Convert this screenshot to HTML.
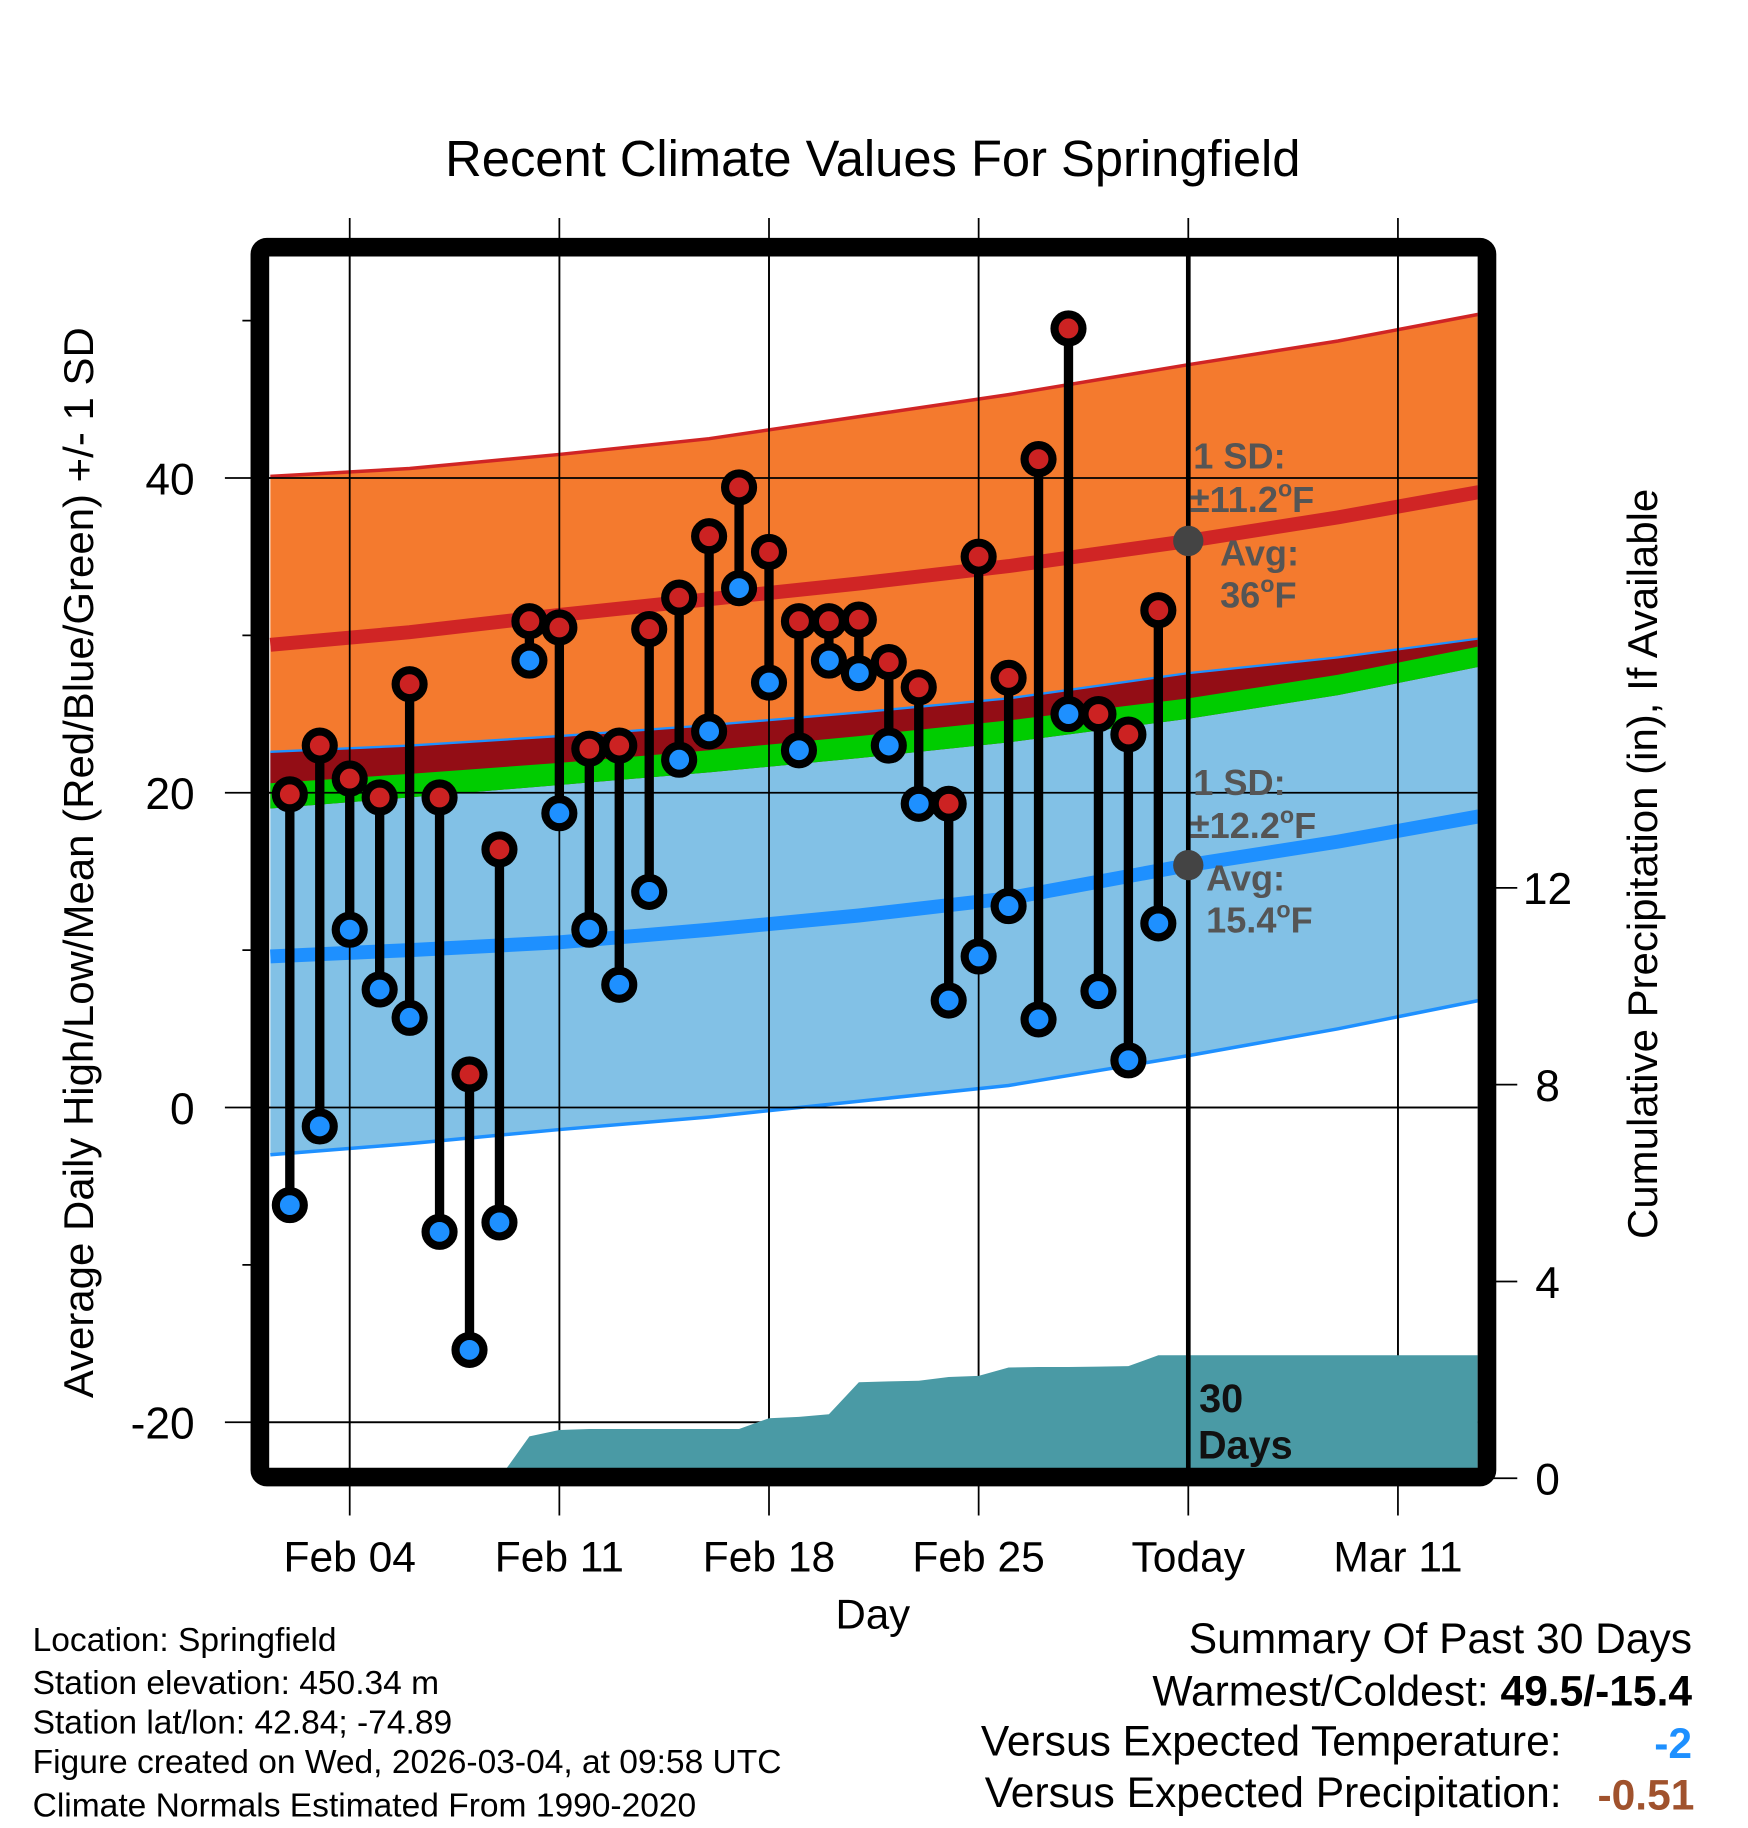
<!DOCTYPE html>
<html><head><meta charset="utf-8"><style>
html,body{margin:0;padding:0;background:#fff;}
svg{display:block;font-family:"Liberation Sans",Arial,sans-serif;}
</style></head><body>
<svg id="chart" width="1748" height="1828" viewBox="0 0 1500 1568" preserveAspectRatio="none" xmlns="http://www.w3.org/2000/svg">
<defs><clipPath id="plotclip"><rect x="231" y="220" width="1037" height="1040"/></clipPath></defs>
<text x="749" y="151" font-size="43.5" text-anchor="middle">Recent Climate Values For Springfield</text>
<g id="grid"></g>
<g id="fills" clip-path="url(#plotclip)"></g>
<g id="marks"></g>
<rect x="223" y="212" width="1053" height="1055" rx="6" fill="none" stroke="#000" stroke-width="16"/>
<g id="axes"></g>
<g fill="#555" font-weight="bold" font-size="31">
<text x="1024" y="402">1 SD:</text>
<text x="1021" y="439">±11.2<tspan font-size="20" dy="-13">o</tspan><tspan dy="13">F</tspan></text>
<text x="1047" y="485">Avg:</text>
<text x="1047" y="521">36<tspan font-size="20" dy="-13">o</tspan><tspan dy="13">F</tspan></text>
<text x="1024" y="682">1 SD:</text>
<text x="1021" y="719">±12.2<tspan font-size="20" dy="-13">o</tspan><tspan dy="13">F</tspan></text>
<text x="1035" y="764">Avg:</text>
<text x="1035" y="800">15.4<tspan font-size="20" dy="-13">o</tspan><tspan dy="13">F</tspan></text>
<text x="1029" y="1211" fill="#111" font-size="34">30</text>
<text x="1028" y="1251" fill="#111" font-size="34">Days</text>
</g>
<text transform="translate(80,740) rotate(-90)" font-size="36" text-anchor="middle">Average Daily High/Low/Mean (Red/Blue/Green) +/- 1 SD</text>
<text transform="translate(1422,741) rotate(-90)" font-size="36" text-anchor="middle">Cumulative Precipitation (in), If Available</text>
<text x="749" y="1397" font-size="36" text-anchor="middle">Day</text>
<g font-size="28.8">
<text x="28" y="1416">Location: Springfield</text>
<text x="28" y="1453">Station elevation: 450.34 m</text>
<text x="28" y="1487">Station lat/lon: 42.84; -74.89</text>
<text x="28" y="1521">Figure created on Wed, 2026-03-04, at 09:58 UTC</text>
<text x="28" y="1558">Climate Normals Estimated From 1990-2020</text>
</g>
<g font-size="36.5">
<text x="1452" y="1418" text-anchor="end">Summary Of Past 30 Days</text>
<text x="1452" y="1463" text-anchor="end">Warmest/Coldest: <tspan font-weight="bold">49.5/-15.4</tspan></text>
<text x="1340" y="1506" text-anchor="end">Versus Expected Temperature:</text>
<text x="1452" y="1508" text-anchor="end" fill="#1e90ff" font-weight="bold">-2</text>
<text x="1340" y="1550" text-anchor="end">Versus Expected Precipitation:</text>
<text x="1454" y="1552" text-anchor="end" fill="#a0522d" font-weight="bold">-0.51</text>
</g>
</svg>
<script>
const obsDays=[1,2,3,4,5,6,7,8,9,10,11,12,13,14,15,16,17,18,19,20,21,22,23,24,25,26,27,28,29,30];
const highs=[19.9,23.0,20.9,19.7,26.9,19.7,2.1,16.4,30.9,30.5,22.8,23.0,30.4,32.4,36.3,39.4,35.3,30.9,30.9,31.0,28.3,26.7,19.3,35.0,27.3,41.2,49.5,25.0,23.7,31.6];
const lows=[-6.2,-1.2,11.3,7.5,5.7,-7.9,-15.4,-7.3,28.4,18.7,11.3,7.8,13.7,22.1,23.9,33.0,27.0,22.7,28.4,27.6,23.0,19.3,6.8,9.6,12.8,5.6,25.0,7.4,3.0,11.7];
const normDays=[0.35,5,10,15,20,25,31,36,40.7];
const highPlus=[40.1,40.6,41.5,42.5,43.9,45.3,47.2,48.7,50.4];
const highMean=[29.4,30.2,31.3,32.3,33.3,34.4,36.0,37.5,39.1];
const lowPlus=[22.6,23.0,23.6,24.3,25.1,26.0,27.6,28.6,29.8];
const meanTop=[20.6,21.2,21.9,22.7,23.6,24.6,26.0,27.5,29.3];
const meanBottom=[19.0,19.7,20.5,21.3,22.2,23.2,24.7,26.2,28.0];
const lowMean=[9.6,10.0,10.5,11.3,12.2,13.3,15.4,16.9,18.5];
const lowMinus=[-3.0,-2.3,-1.4,-0.6,0.4,1.4,3.3,5.0,6.8];
const precipDays=[8,9,10,11,12,13,14,15,16,17,18,19,20,21,22,23,24,25,26,27,28,29,30,40.7];
const precipVals=[0,0.85,0.98,1.0,1.0,1.0,1.0,1.0,1.0,1.22,1.25,1.3,1.95,1.97,1.98,2.06,2.08,2.25,2.26,2.26,2.27,2.28,2.5,2.5];
const yTicks=[40,20,0,-20];
const yMinor=[50,30,10,-10];
const pTicks=[0,4,8,12];
const xTickDays=[3,10,17,24,31,38];
const xTickLabels=["Feb 04","Feb 11","Feb 18","Feb 25","Today","Mar 11"];
const todayDay=31;

const NS="http://www.w3.org/2000/svg";
const X=d=>223+25.7*d;
const Y=v=>950-13.5*v;
const P=v=>1268-42.2*v;
function mk(tag,attrs,parent){const e=document.createElementNS(NS,tag);for(const k in attrs)e.setAttribute(k,attrs[k]);parent.appendChild(e);return e;}
function line(arr){return normDays.map((d,i)=>X(d).toFixed(1)+","+Y(arr[i]).toFixed(1));}
function band(top,bot){return line(top).concat(line(bot).reverse()).join(" ");}

const grid=document.getElementById('grid');
xTickDays.forEach((d,i)=>{
  const l=mk('line',{x1:X(d),x2:X(d),y1:187,y2:1300,stroke:'#000','stroke-width':1.5},grid);
  
  
});
yTicks.forEach(v=>{
  const l=mk('line',{x1:193,x2:1268,y1:Y(v),y2:Y(v),stroke:'#000','stroke-width':1.5},grid);
  
  
});
yMinor.forEach(v=>{
  const l=mk('line',{x1:208,x2:223,y1:Y(v),y2:Y(v),stroke:'#000','stroke-width':1.5},grid);
  
  
});

const fills=document.getElementById('fills');
let e;
e=mk('polygon',{points:band(highPlus,lowPlus),fill:'#f47a2e'},fills);


e=mk('polyline',{points:line(highPlus).join(" "),fill:'none',stroke:'#d02525','stroke-width':3},fills);


e=mk('polygon',{points:band(lowPlus,lowMinus),fill:'#82c1e6'},fills);


e=mk('polygon',{points:band(lowPlus,meanBottom),fill:'#930d15'},fills);


e=mk('polygon',{points:band(meanTop,meanBottom),fill:'#00cc00'},fills);


e=mk('polyline',{points:line(lowPlus).join(" "),fill:'none',stroke:'#1e90ff','stroke-width':2},fills);


e=mk('polyline',{points:line(lowMinus).join(" "),fill:'none',stroke:'#1e90ff','stroke-width':3},fills);


e=mk('polyline',{points:line(highMean).join(" "),fill:'none',stroke:'#d02525','stroke-width':12},fills);


e=mk('polyline',{points:line(lowMean).join(" "),fill:'none',stroke:'#1e90ff','stroke-width':12},fills);


xTickDays.forEach(d=>{
  const l=mk('line',{x1:X(d),x2:X(d),y1:220,y2:1260,stroke:'#000','stroke-width':1.5},fills);
  
  
});
yTicks.forEach(v=>{
  const l=mk('line',{x1:231,x2:1268,y1:Y(v),y2:Y(v),stroke:'#000','stroke-width':1.5},fills);
  
  
});
let pts=precipDays.map((d,i)=>X(d).toFixed(1)+","+P(precipVals[i]).toFixed(1));
pts.push(X(precipDays[precipDays.length-1])+","+P(0));
pts.push(X(precipDays[0])+","+P(0));
e=mk('polygon',{points:pts.join(" "),fill:'#4a9aa5'},fills);


e=mk('line',{x1:X(todayDay),x2:X(todayDay),y1:220,y2:1260,stroke:'#000','stroke-width':4},fills);


e=mk('circle',{cx:X(todayDay),cy:Y(highMean[6]),r:13,fill:'#444'},fills);


e=mk('circle',{cx:X(todayDay),cy:Y(lowMean[6]),r:13,fill:'#444'},fills);



const marks=document.getElementById('marks');
obsDays.forEach((d,i)=>{
  const s=mk('line',{x1:X(d),x2:X(d),y1:Y(highs[i]),y2:Y(lows[i]),stroke:'#000','stroke-width':8},marks);
  
  
});
obsDays.forEach((d,i)=>{
  const h=mk('circle',{cx:X(d),cy:Y(highs[i]),r:12,fill:'#cc2222',stroke:'#000','stroke-width':7},marks);
  
  
  const l=mk('circle',{cx:X(d),cy:Y(lows[i]),r:12,fill:'#1e90ff',stroke:'#000','stroke-width':7},marks);
  
  
});

const axes=document.getElementById('axes');
yTicks.forEach(v=>{
  const t=mk('text',{x:167,y:Y(v)+14,'font-size':38,'text-anchor':'end'},axes);
  t.textContent=String(v);
  
  
});
pTicks.forEach(v=>{
  const l=mk('line',{x1:1276,x2:1302,y1:P(v),y2:P(v),stroke:'#000','stroke-width':1.5},axes);
  
  
  const t=mk('text',{x:1328,y:P(v)+14,'font-size':38,'text-anchor':'middle'},axes);
  t.textContent=String(v);
  
  
});
xTickDays.forEach((d,i)=>{
  const t=mk('text',{x:X(d),y:1348,'font-size':36.5,'text-anchor':'middle'},axes);
  t.textContent=xTickLabels[i];
  
  
});
</script>
</body></html>
